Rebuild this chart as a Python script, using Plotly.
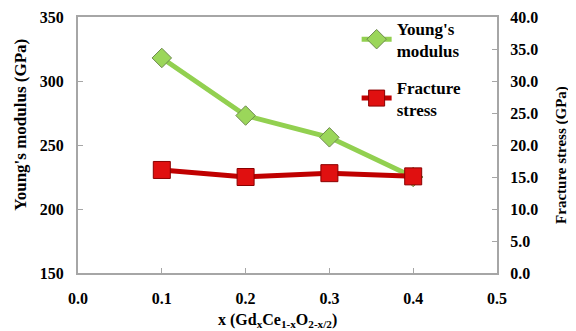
import plotly.graph_objects as go

x_vals = [0.1, 0.2, 0.3, 0.4]
youngs_modulus = [318, 273, 256, 225]
fracture_stress = [16.1, 15.0, 15.6, 15.1]

x_ticks = [0.0, 0.1, 0.2, 0.3, 0.4, 0.5]
x_ticktext = ["0.0", "0.1", "0.2", "0.3", "0.4", "0.5"]
y1_ticks = [150, 200, 250, 300, 350]
y2_ticks = [0, 5, 10, 15, 20, 25, 30, 35, 40]
y2_ticktext = ["0.0", "5.0", "10.0", "15.0", "20.0", "25.0", "30.0", "35.0", "40.0"]

FONT = "Liberation Serif, Times New Roman, serif"
AX = "#a6a6a6"

fig = go.Figure()
fig.add_trace(go.Scatter(
    x=x_vals, y=youngs_modulus, name="<b>Young's<br>modulus</b>",
    mode="lines+markers",
    line=dict(color="#92D050", width=5),
    marker=dict(symbol="diamond", size=15, color="#9BD65A",
                line=dict(color="#6f8a50", width=1)),
    yaxis="y", legend="legend",
))
fig.add_trace(go.Scatter(
    x=x_vals, y=fracture_stress, name="<b>Fracture<br>stress</b>",
    mode="lines+markers",
    line=dict(color="#C00000", width=5),
    marker=dict(symbol="square", size=17, color="#E01010",
                line=dict(color="#8a0000", width=1)),
    yaxis="y2", legend="legend2",
))

leg_common = dict(xanchor="left", yanchor="top", bgcolor="rgba(0,0,0,0)",
                  font=dict(size=17, family=FONT), itemwidth=30)

fig.update_layout(
    width=576, height=331,
    margin=dict(l=70, r=87, t=9, b=66, autoexpand=False),
    paper_bgcolor="white", plot_bgcolor="white",
    font=dict(family=FONT, size=16, color="black"),
    showlegend=True,
    legend=dict(x=0.665, y=1.025, **leg_common),
    legend2=dict(x=0.665, y=0.795, **leg_common),
    xaxis=dict(
        range=[0, 0.5], tickvals=x_ticks, ticktext=["<b>%s</b>" % t for t in x_ticktext],
        showgrid=False, zeroline=False, showline=True, linecolor=AX, linewidth=2,
        ticks="inside", ticklen=5, tickcolor=AX, tickwidth=1, mirror=True,
        ticklabelstandoff=10, automargin=False,
        tickfont=dict(size=16, family=FONT),
    ),
    yaxis=dict(
        range=[150, 350], tickvals=y1_ticks, ticktext=["<b>%d</b>" % t for t in y1_ticks],
        showgrid=False, zeroline=False, showline=True, linecolor=AX, linewidth=2,
        ticks="inside", ticklen=5, tickcolor=AX, tickwidth=1,
        ticklabelstandoff=9, automargin=False,
        tickfont=dict(size=16, family=FONT),
    ),
    yaxis2=dict(
        range=[0, 40], tickvals=y2_ticks, ticktext=["<b>%s</b>" % t for t in y2_ticktext],
        overlaying="y", side="right",
        showgrid=False, zeroline=False, showline=True, linecolor=AX, linewidth=2,
        ticks="inside", ticklen=5, tickcolor=AX, tickwidth=1,
        ticklabelstandoff=8, automargin=False,
        tickfont=dict(size=16, family=FONT),
    ),
    annotations=[
        dict(text="<b>Young's modulus (GPa)</b>", xref="paper", yref="paper",
             x=-0.138, y=0.58, textangle=-90, showarrow=False,
             xanchor="center", yanchor="middle", font=dict(size=17, family=FONT)),
        dict(text="<b>Fracture stress (GPa)</b>", xref="paper", yref="paper",
             x=1.155, y=0.461, textangle=-90, showarrow=False,
             xanchor="center", yanchor="middle", font=dict(size=15, family=FONT)),
        dict(text="<b>x (Gd<sub>x</sub>Ce<sub>1-x</sub>O<sub>2-x/2</sub>)</b>", xref="paper", yref="paper",
             x=0.476, y=-0.184, showarrow=False,
             xanchor="center", yanchor="middle", font=dict(size=16, family=FONT)),
    ],
)

fig.write_html("out.html")
